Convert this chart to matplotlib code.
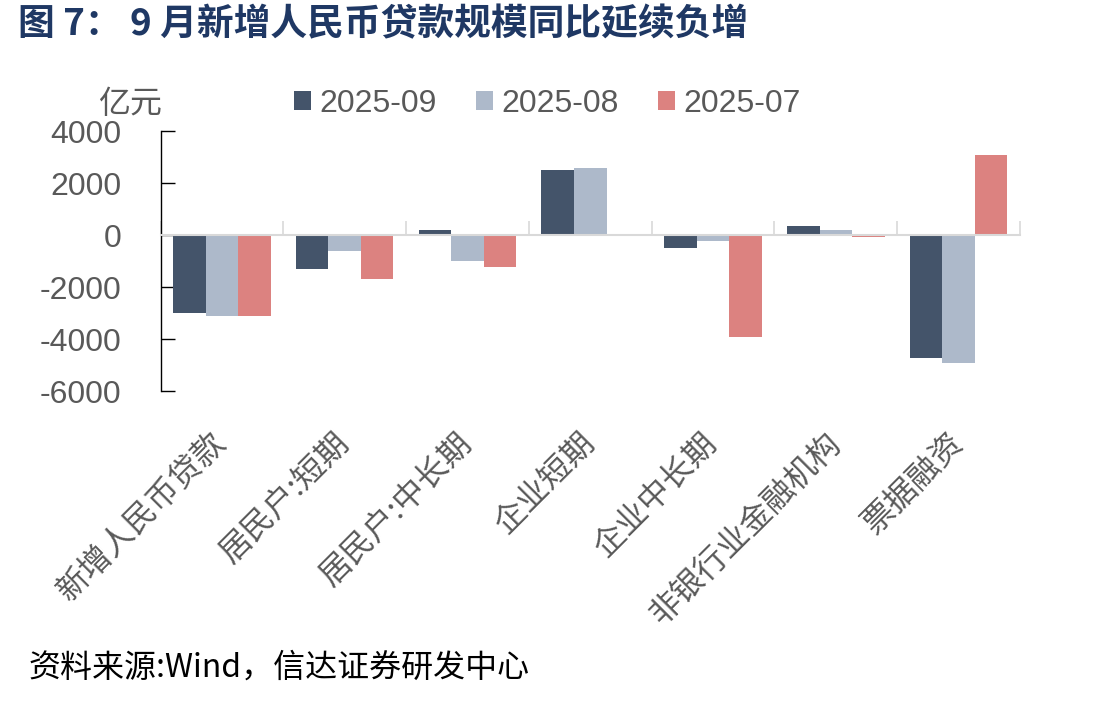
import matplotlib
matplotlib.use("Agg")
import matplotlib.pyplot as plt
import matplotlib.transforms as mtransforms
import numpy as np

plt.rcParams['font.family'] = ['Liberation Sans', 'Noto Sans CJK SC', 'DejaVu Sans']

categories = ['新增人民币贷款', '居民户:短期', '居民户:中长期', '企业短期',
              '企业中长期', '非银行业金融机构', '票据融资']
series_names = ['2025-09', '2025-08', '2025-07']
v_2025_09 = [-3000, -1280, 200, 2500, -500, 350, -4710]
v_2025_08 = [-3100, -620, -1000, 2590, -200, 200, -4930]
v_2025_07 = [-3100, -1670, -1210, 0, -3900, -50, 3100]
yticks = [4000, 2000, 0, -2000, -4000, -6000]
colors = ['#44546A', '#ADB9CA', '#DC8280']

W, H = 1111, 703
fig = plt.figure(figsize=(W / 100, H / 100), dpi=100)
left, right, top, bottom = 160.5, 1020, 131.3, 391.3
ax = fig.add_axes([left / W, 1 - bottom / H, (right - left) / W, (bottom - top) / H])

x = np.arange(len(categories))
bw = 0.265
for i, (vals, c, name) in enumerate(zip([v_2025_09, v_2025_08, v_2025_07], colors, series_names)):
    ax.bar(x + (i - 1) * bw, vals, width=bw, color=c, label=name, zorder=2)

ax.set_xlim(-0.5, len(categories) - 0.5)
ax.set_ylim(-6000, 4000)
ax.set_yticks(yticks)
ax.set_yticklabels([str(t) for t in yticks])

gray = '#595959'
for s in ['top', 'right']:
    ax.spines[s].set_visible(False)
ax.spines['left'].set_color('black')
ax.spines['left'].set_linewidth(1.0)
ax.spines['bottom'].set_position(('data', 0))
ax.spines['bottom'].set_color('#D9D9D9')
ax.spines['bottom'].set_linewidth(1.5)
ax.spines['bottom'].set_zorder(3)

ax.tick_params(axis='y', direction='in', length=10, width=1, color='black',
               labelsize=23, labelcolor=gray, pad=28)
ax.set_xticks(np.arange(-0.5, len(categories), 1.0))
ax.tick_params(axis='x', direction='in', length=10, width=1.2, color='#D9D9D9',
               labelbottom=False)

trans = mtransforms.blended_transform_factory(ax.transData, fig.transFigure)
for i, cat in enumerate(categories):
    ax.text(i, 1 - 438 / H, cat, rotation=45, ha='right', va='center',
            rotation_mode='anchor', fontsize=23, color=gray, transform=trans,
            family=['Noto Sans CJK SC', 'DejaVu Sans'])

fig.legend(loc='center left', bbox_to_anchor=(294 / W, 1 - 104 / H), ncol=3,
           frameon=False, fontsize=23, handlelength=0.53, handleheight=0.53,
           handletextpad=0.25, columnspacing=1.25, borderpad=0, borderaxespad=0,
           labelcolor=gray)

fig.text(98 / W, 1 - 104 / H, '亿元', fontsize=23, color=gray, va='center', ha='left',
         family=['Noto Sans CJK SC', 'DejaVu Sans'])

fig.text(18 / W, 1 - 25 / H, '图 7： 9 月新增人民币贷款规模同比延续负增', fontsize=26.5,
         fontweight='bold', color='#1F3864', va='center', ha='left',
         family=['Noto Sans CJK SC', 'DejaVu Sans'])

fig.text(28 / W, 1 - 668 / H, '资料来源:Wind，信达证券研发中心', fontsize=23,
         color='black', va='center', ha='left', style='italic',
         family=['Noto Sans CJK SC', 'DejaVu Sans'])

fig.savefig('out.png', dpi=100)
